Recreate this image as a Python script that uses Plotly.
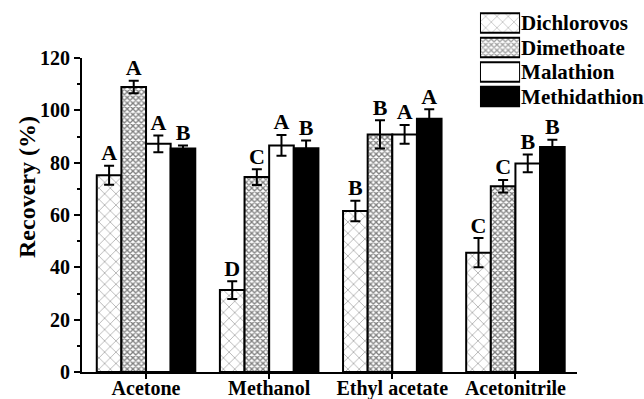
import plotly.graph_objects as go

# Solvent categories and pesticide series
solvents = ["Acetone", "Methanol", "Ethyl acetate", "Acetonitrile"]
pesticides = ["Dichlorovos", "Dimethoate", "Malathion", "Methidathion"]

# Mean recovery (%) per pesticide across solvents
dichlorovos = [75.2, 31.3, 61.5, 45.6]
dimethoate = [108.9, 74.5, 90.8, 71.0]
malathion = [87.2, 86.6, 90.8, 79.7]
methidathion = [85.4, 85.5, 96.8, 86.0]

# Standard deviations
dichlorovos_sd = [3.6, 3.4, 3.9, 5.6]
dimethoate_sd = [2.4, 3.0, 5.4, 2.4]
malathion_sd = [3.2, 4.0, 3.6, 3.4]
methidathion_sd = [1.2, 3.0, 3.6, 2.8]

# Significance letters
dichlorovos_sig = ["A", "D", "B", "C"]
dimethoate_sig = ["A", "C", "B", "C"]
malathion_sig = ["A", "A", "A", "B"]
methidathion_sig = ["B", "B", "A", "B"]

# Y axis ticks
y_ticks = [0, 20, 40, 60, 80, 100, 120]

values = [dichlorovos, dimethoate, malathion, methidathion]
sds = [dichlorovos_sd, dimethoate_sd, malathion_sd, methidathion_sd]
sigs = [dichlorovos_sig, dimethoate_sig, malathion_sig, methidathion_sig]

FONT = "Liberation Serif, Times New Roman, DejaVu Serif, serif"
coarse = dict(shape="x", size=8, solidity=0.13, fgcolor="black", bgcolor="white")
fine = dict(shape="x", size=4, solidity=0.55, fgcolor="black", bgcolor="white")
styles = [
    dict(color="white", pattern=coarse),
    dict(color="white", pattern=fine),
    dict(color="white"),
    dict(color="black"),
]

fig = go.Figure()

for name, vals, sd, sig, st in zip(pesticides, values, sds, sigs, styles):
    marker = dict(line=dict(color="black", width=2), **st)
    fig.add_trace(go.Bar(
        x=solvents, y=vals, name=name, offsetgroup=name, marker=marker,
        error_y=dict(type="data", array=sd, color="black", thickness=2, width=5),
        showlegend=False,
    ))
    fig.add_trace(go.Scatter(
        x=solvents, y=[v + s for v, s in zip(vals, sd)], mode="text", text=sig,
        textposition="top center", offsetgroup=name, showlegend=False,
        textfont=dict(family=FONT, size=22, color="black", weight="bold"),
        hoverinfo="skip",
    ))

# Key: one swatch per pesticide on a small auxiliary axis
fig.add_trace(go.Bar(
    x=[1] * len(pesticides), y=pesticides, orientation="h",
    xaxis="x2", yaxis="y2", showlegend=False, hoverinfo="skip",
    marker=dict(
        color=["white", "white", "white", "black"],
        line=dict(color="black", width=2),
        pattern=dict(
            shape=["x", "x", "", ""],
            size=[coarse["size"], fine["size"], 8, 8],
            solidity=[coarse["solidity"], fine["solidity"], 0.3, 0.3],
            fgcolor="black",
            bgcolor=["white", "white", "white", "black"],
        ),
    ),
))

H = 399
top, bottom = 10, 27
plot_h = H - top - bottom
main_top = (H - bottom - 58) / plot_h

fig.update_layout(
    width=644, height=H,
    margin=dict(l=82, r=67, t=top, b=bottom),
    paper_bgcolor="white", plot_bgcolor="white",
    barmode="group", bargap=0.2, bargroupgap=0, scattermode="group",
    font=dict(family=FONT, color="black", weight="bold"),
    xaxis=dict(
        type="category", range=[-0.52, 3.5], automargin=False,
        showline=True, linecolor="black", linewidth=2,
        ticks="outside", ticklen=5, tickwidth=2, tickcolor="black",
        ticklabelstandoff=-8,
        tickfont=dict(family=FONT, size=20, weight="bold"),
        showgrid=False, zeroline=False, anchor="y",
    ),
    yaxis=dict(
        domain=[0, main_top], range=[0, 120], tickvals=y_ticks, automargin=False,
        showline=True, linecolor="black", linewidth=2,
        ticks="outside", ticklen=6, tickwidth=2, tickcolor="black",
        minor=dict(dtick=10, ticks="outside", ticklen=3, tickwidth=2, tickcolor="black"),
        tickfont=dict(family=FONT, size=20, weight="bold"),
        showgrid=False, zeroline=False, anchor="x",
    ),
    xaxis2=dict(domain=[0.804, 0.885], range=[0, 1], visible=False, anchor="y2"),
    yaxis2=dict(
        domain=[(H - bottom - 108.75) / plot_h, (H - bottom - 10.75) / plot_h],
        type="category", autorange="reversed", anchor="x2", side="right",
        tickmode="array", tickvals=pesticides, automargin=False,
        showline=False, ticks="", showgrid=False, zeroline=False,
        tickfont=dict(family=FONT, size=21, weight="bold"),
    ),
    annotations=[dict(
        text="Recovery (%)", textangle=-90, showarrow=False,
        xref="paper", yref="paper", x=(27 - 82) / 495, y=(H - bottom - 187) / plot_h,
        xanchor="center", yanchor="middle",
        font=dict(family=FONT, size=24, weight="bold"),
    )],
)

fig.write_html("out.html")
